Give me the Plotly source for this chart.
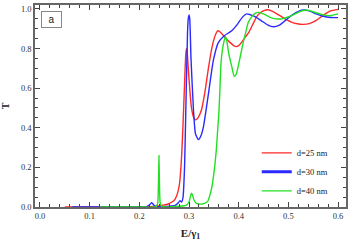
import plotly.graph_objects as go

# d = 25 nm (red)
E_25 = [0.05, 0.15, 0.22, 0.245, 0.258, 0.266, 0.272, 0.277, 0.281, 0.285, 0.288, 0.291, 0.293, 0.2945, 0.296, 0.299, 0.302, 0.305, 0.309, 0.313, 0.318, 0.325, 0.332, 0.339, 0.345, 0.350, 0.355, 0.358, 0.362, 0.368, 0.375, 0.383, 0.390, 0.395, 0.400, 0.407, 0.414, 0.420, 0.428, 0.436, 0.444, 0.452, 0.458, 0.466, 0.476, 0.49, 0.505, 0.518, 0.53, 0.542, 0.556, 0.57, 0.585, 0.60]
T_25 = [0, 0, 0.002, 0.008, 0.015, 0.025, 0.04, 0.07, 0.12, 0.25, 0.42, 0.62, 0.75, 0.80, 0.79, 0.68, 0.58, 0.50, 0.455, 0.44, 0.45, 0.49, 0.58, 0.70, 0.79, 0.845, 0.88, 0.89, 0.885, 0.87, 0.85, 0.83, 0.815, 0.81, 0.815, 0.835, 0.86, 0.88, 0.92, 0.96, 0.982, 0.993, 0.996, 0.99, 0.977, 0.955, 0.935, 0.925, 0.922, 0.926, 0.942, 0.968, 0.99, 0.998]

# d = 30 nm (blue)
E_30 = [0.065, 0.15, 0.215, 0.221, 0.225, 0.229, 0.235, 0.26, 0.272, 0.278, 0.282, 0.285, 0.288, 0.291, 0.294, 0.297, 0.2985, 0.300, 0.3015, 0.304, 0.309, 0.313, 0.319, 0.324, 0.329, 0.339, 0.349, 0.359, 0.371, 0.386, 0.398, 0.408, 0.416, 0.422, 0.432, 0.446, 0.458, 0.470, 0.482, 0.493, 0.505, 0.518, 0.530, 0.542, 0.556, 0.570, 0.585, 0.60]
T_30 = [0, 0, 0.002, 0.012, 0.022, 0.01, 0.002, 0.004, 0.008, 0.02, 0.032, 0.025, 0.05, 0.2, 0.54, 0.88, 0.95, 0.97, 0.95, 0.75, 0.49, 0.37, 0.34, 0.36, 0.405, 0.57, 0.74, 0.83, 0.865, 0.89, 0.925, 0.96, 0.975, 0.972, 0.962, 0.94, 0.92, 0.91, 0.918, 0.94, 0.965, 0.985, 0.995, 0.99, 0.975, 0.963, 0.957, 0.956]

# d = 40 nm (green)
E_40 = [0.12, 0.2, 0.234, 0.237, 0.2385, 0.2395, 0.2405, 0.242, 0.245, 0.28, 0.295, 0.300, 0.303, 0.305, 0.307, 0.310, 0.314, 0.32, 0.33, 0.338, 0.342, 0.346, 0.349, 0.352, 0.355, 0.358, 0.360, 0.362, 0.364, 0.366, 0.369, 0.373, 0.376, 0.379, 0.383, 0.386, 0.391, 0.395, 0.399, 0.404, 0.409, 0.414, 0.419, 0.426, 0.433, 0.44, 0.45, 0.463, 0.475, 0.487, 0.498, 0.51, 0.522, 0.534, 0.545, 0.557, 0.57, 0.584, 0.60]
T_40 = [0, 0, 0.002, 0.02, 0.12, 0.26, 0.12, 0.02, 0.003, 0.004, 0.01, 0.025, 0.055, 0.07, 0.06, 0.035, 0.02, 0.015, 0.017, 0.03, 0.06, 0.1, 0.15, 0.21, 0.29, 0.4, 0.47, 0.58, 0.71, 0.77, 0.82, 0.86, 0.84, 0.79, 0.74, 0.71, 0.66, 0.67, 0.71, 0.77, 0.83, 0.88, 0.93, 0.96, 0.978, 0.983, 0.975, 0.958, 0.95, 0.95, 0.958, 0.97, 0.985, 0.995, 0.99, 0.98, 0.97, 0.966, 0.975]

labels = ["d=25 nm", "d=30 nm", "d=40 nm"]
colors = ["#ff2a2a", "#2a2aff", "#22e022"]
legend_widths = [1.3, 3, 1.3]

fig = go.Figure()
for E, T, c in zip([E_25, E_30, E_40], [T_25, T_30, T_40], colors):
    fig.add_trace(go.Scatter(x=E, y=T, mode="lines", showlegend=False, hoverinfo="skip",
                             line=dict(color=c, width=1.4, shape="spline", smoothing=0.5)))
for lab, c, w in zip(labels, colors, legend_widths):
    fig.add_trace(go.Scatter(x=[None], y=[None], mode="lines", name=lab,
                             line=dict(color=c, width=w)))

axis_common = dict(showgrid=False, zeroline=False, showline=True, linecolor="#666666",
                   linewidth=1.5, mirror="allticks", ticks="inside", ticklen=5,
                   tickcolor="#444444", tickwidth=1, automargin=False,
                   tickfont=dict(family="Liberation Serif", size=8.5, color="#333333"))

fig.update_xaxes(range=[-0.01, 0.616], dtick=0.1, tick0=0, tickformat=".1f",
                 minor=dict(dtick=0.02, ticklen=3, ticks="inside", tickcolor="#444444"),
                 title=dict(text="<b>E/γ<sub>1</sub></b>", standoff=9,
                            font=dict(family="Liberation Serif", size=11, color="#222222")),
                 **axis_common)
fig.update_yaxes(range=[0, 1.02], dtick=0.2, tick0=0, tickformat=".1f",
                 minor=dict(dtick=0.05, ticklen=3, ticks="inside", tickcolor="#444444"),
                 title=dict(text="<b>T</b>", standoff=16,
                            font=dict(family="Liberation Serif", size=10, color="#222222")),
                 **axis_common)

fig.add_annotation(x=0.053, y=0.928, xref="paper", yref="paper", text="a",
                   xanchor="center", yanchor="middle",
                   showarrow=False, font=dict(family="Liberation Sans", size=10, color="#222222"),
                   width=17, height=13, bordercolor="#888888", borderwidth=1, borderpad=1,
                   bgcolor="white")

fig.update_layout(width=355, height=245, margin=dict(l=35, r=9, t=5, b=38),
                  plot_bgcolor="white", paper_bgcolor="white", hovermode=False,
                  legend=dict(x=0.713, y=0.34, xanchor="left", yanchor="top",
                              bgcolor="rgba(0,0,0,0)", tracegroupgap=0,
                              font=dict(family="Liberation Serif", size=8.5, color="#222222")))

fig.write_html("out.html", config={"displayModeBar": False},
               post_script="document.body.style.margin='0';")
